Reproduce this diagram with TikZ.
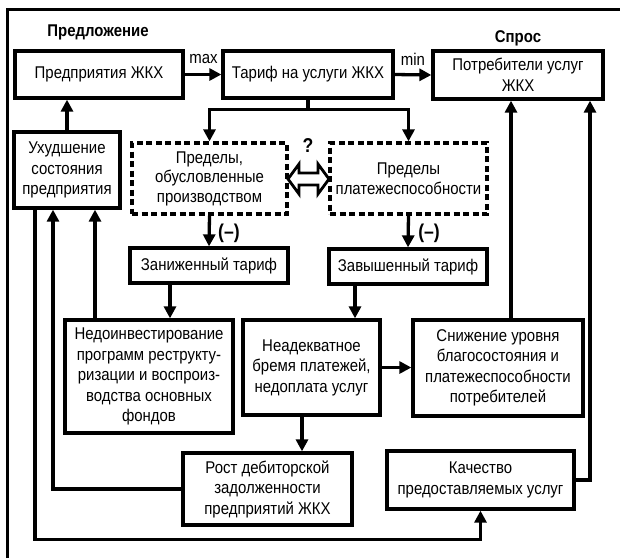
\documentclass[tikz,border=0pt]{standalone}
\usepackage{fontspec}
\setmainfont{Liberation Sans}[FakeStretch=0.88]
\usetikzlibrary{arrows.meta,calc}
\begin{document}
\begin{tikzpicture}[x=1pt,y=-1pt,
  box/.style={draw, line width=3.3pt, inner sep=0pt, align=center, font=\fontsize{17}{20.5}\selectfont},
  dbox/.style={box, dash pattern=on 6pt off 3.5pt, font=\fontsize{17}{19.5}\selectfont},
  arr/.style={line width=3.3pt, -{Triangle[length=12pt,width=12pt]}},
  ln/.style={line width=3.3pt},
  lbl/.style={inner sep=0pt, font=\fontsize{17}{20}\selectfont},
  blbl/.style={inner sep=0pt, font=\bfseries\fontsize{17}{20}\selectfont},
  bigl/.style={inner sep=0pt, font=\bfseries\fontsize{20}{22}\selectfont}
]
\useasboundingbox (0,0) rectangle (620,558);
% frame
\draw[line width=3.4pt] (7.5,558) -- (7.5,9.5) -- (620,9.5);

% nodes
\node[box, minimum width=168, minimum height=47] (pr) at (99,74.5) {Предприятия ЖКХ};
\node[box, minimum width=170, minimum height=47] (tar) at (308,74.5) {Тариф на услуги ЖКХ};
\node[box, minimum width=170, minimum height=48] (pot) at (518,75) {Потребители услуг\\ЖКХ};
\node[box, minimum width=106, minimum height=76] (uh) at (67,170) {Ухудшение\\состояния\\предприятия};
\node[dbox, minimum width=155, minimum height=71] (d1) at (209.5,178.5) {Пределы,\\обусловленные\\производством};
\node[dbox, minimum width=157, minimum height=71] (d2) at (408.5,178.5) {Пределы\\платежеспособности};
\node[box, minimum width=158, minimum height=35] (zan) at (209,265.5) {Заниженный тариф};
\node[box, minimum width=158, minimum height=35] (zav) at (408,266.5) {Завышенный тариф};
\node[box, minimum width=168, minimum height=113] (ned) at (149,376.5) {Недоинвестирование\\программ реструкту-\\ризации и воспроиз-\\водства основных\\фондов};
\node[box, minimum width=137, minimum height=95] (nea) at (311.5,367.5) {Неадекватное\\бремя платежей,\\недоплата услуг};
\node[box, minimum width=170, minimum height=96] (sn) at (498,368) {Снижение уровня\\благосостояния и\\платежеспособности\\потребителей};
\node[box, minimum width=169, minimum height=72] (rost) at (267.5,489) {Рост дебиторской\\задолженности\\предприятий ЖКХ};
\node[box, minimum width=187, minimum height=58] (kach) at (480.5,480) {Качество\\предоставляемых услуг};

% labels
\node[blbl] (lsup) at (98,32) {Предложение};
\node[blbl] (ldem) at (518,38) {Спрос};
\node[lbl] (lmax) at (203.5,59) {max};
\node[lbl] (lmin) at (413,59) {min};
\node[bigl] (lq) at (308,146) {?};
\node[bigl] (lm1) at (229,233) {(–)};
\node[bigl] (lm2) at (429,233) {(–)};

% double arrow
\coordinate (dc) at (308.5,179);
\draw[line width=2.8pt, line join=miter, fill=white]
  ($(dc)+(-20.5,0)$) -- ++(11,-15) -- ++(0,9) -- ++(19,0) -- ++(0,-9) -- ++(11,15)
  -- ++(-11,15) -- ++(0,-9) -- ++(-19,0) -- ++(0,9) -- cycle;

% connectors
\draw[arr] (pr.east) -- (tar.west);
\draw[arr] (tar.east) -- (pot.west);
\draw[ln] (tar.south) -- ++(0,10) coordinate (sp);
\draw[arr] (sp) -| (d1.north);
\draw[arr] (sp) -| (d2.north);
\draw[arr] (d1.south) -- (zan.north);
\draw[arr] (d2.south) -- (zav.north);
\draw[arr] ([xshift=-39pt]zan.south) -- ([xshift=-39pt]zan.south |- ned.north);
\draw[arr] ([xshift=-53pt]zav.south) -- ([xshift=-53pt]zav.south |- nea.north);
\draw[arr] (nea.east) -- (nea.east -| sn.west);
\draw[arr] ([xshift=-9.5pt]nea.south) -- ([xshift=-9.5pt]nea.south |- rost.north);
\draw[arr] ([xshift=13pt]sn.north) -- ([xshift=13pt]sn.north |- pot.south);
\draw[arr] (kach.east) -| ([xshift=72pt]pot.south);
\draw[arr] (uh.north) -- (uh.north |- pr.south);
\draw[arr] ([xshift=-54pt]ned.north) -- ([xshift=-54pt]ned.north |- uh.south);
\draw[arr] (rost.west) -| ([xshift=-14pt]uh.south);
\draw[arr] ([xshift=-32pt]uh.south) -- ++(0,330) -| (kach.south);
\end{tikzpicture}
\end{document}
